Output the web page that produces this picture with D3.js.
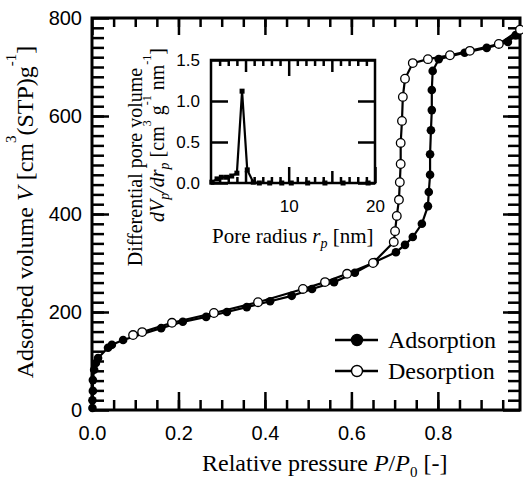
<!DOCTYPE html>
<html>
<head>
<meta charset="utf-8">
<script src="https://cdn.jsdelivr.net/npm/d3@7"></script>
<style>
    body { margin: 0; background: #fff; }
    svg { display: block; }
</style>
</head>
<body>
<div id="chart"></div>
<script>
// Adsorption branch (filled circles)
const adsP = [0.001, 0.001, 0.002, 0.002, 0.005, 0.009, 0.014, 0.037, 0.046, 0.072,
    0.160, 0.210, 0.264, 0.312, 0.358, 0.412, 0.462, 0.509, 0.560, 0.608,
    0.654, 0.703, 0.724, 0.742, 0.763, 0.777, 0.779, 0.782, 0.782, 0.784,
    0.786, 0.786, 0.788, 0.802, 0.862, 0.913, 0.962, 0.980];
const adsV = [4, 20, 39, 61, 82, 96, 106, 127, 133, 143,
    167, 180, 190, 200, 210, 222, 233, 247, 261, 280,
    302, 322, 337, 353, 380, 416, 445, 480, 522, 571,
    612, 653, 692, 716, 729, 739, 751, 765];

// Desorption branch (open circles)
const desP = [0.990, 0.941, 0.874, 0.828, 0.777, 0.742, 0.724, 0.719, 0.717, 0.714,
    0.714, 0.712, 0.710, 0.705, 0.701, 0.698, 0.650, 0.590, 0.539, 0.488,
    0.384, 0.282, 0.185, 0.116, 0.095];
const desV = [776, 747, 733, 724, 716, 708, 676, 639, 590, 545,
    502, 465, 429, 396, 365, 343, 300, 278, 261, 247,
    220, 198, 178, 159, 153];

// Inset: pore size distribution
const poreR = [1.1, 1.7, 2.2, 2.8, 3.4, 4.0, 4.6, 5.2, 5.9, 6.6, 7.8, 9.2, 10.3, 12.2, 14.2, 16.3, 19.2];
const poreDV = [0.01, 0.05, 0.07, 0.07, 0.085, 0.12, 1.12, 0.16, 0.01, 0, 0, 0, 0, 0, 0, 0, 0];

// tick labels
const xTicks = [0, 0.2, 0.4, 0.6, 0.8];
const yTicks = [0, 200, 400, 600, 800];
const insetXTicks = [10, 20];
const insetYTicks = [0, 0.5, 1.0, 1.5];

const legendItems = ['Adsorption', 'Desorption'];

const width = 523, height = 480;
const sans = '"Liberation Sans", Arial, sans-serif';
const serif = '"Liberation Serif", "Times New Roman", serif';

const svg = d3.select('#chart').append('svg')
    .attr('width', width)
    .attr('height', height);

// main scales
const x = d3.scaleLinear().domain([0, 0.99]).range([92, 520]);
const y = d3.scaleLinear().domain([0, 800]).range([410, 18]);

function styleAxis(g, fontSize) {
    g.select('.domain').remove();
    g.selectAll('.tick line').attr('stroke-width', 2.5);
    g.attr('font-family', sans).attr('font-size', fontSize);
    g.selectAll('text').attr('fill', '#000');
}

// minor ticks
const xMinor = d3.range(1, 20).map(i => i * 0.05);
const yMinor = d3.range(1, 40).map(i => i * 20);

svg.append('g').attr('transform', 'translate(0,410)')
    .call(d3.axisBottom(x).tickValues(xMinor).tickSize(-10).tickFormat(''))
    .call(g => styleAxis(g, 20));
svg.append('g').attr('transform', 'translate(0,18)')
    .call(d3.axisTop(x).tickValues(xMinor).tickSize(-9).tickFormat(''))
    .call(g => styleAxis(g, 20));
svg.append('g').attr('transform', 'translate(92,0)')
    .call(d3.axisLeft(y).tickValues(yMinor).tickSize(-12).tickFormat(''))
    .call(g => styleAxis(g, 20));
svg.append('g').attr('transform', 'translate(520,0)')
    .call(d3.axisRight(y).tickValues(yMinor).tickSize(-12).tickFormat(''))
    .call(g => styleAxis(g, 20));

// major ticks
svg.append('g').attr('transform', 'translate(0,410)')
    .call(d3.axisBottom(x).tickValues(xTicks).tickSize(-18).tickPadding(16).tickFormat(d3.format('.1f')))
    .call(g => styleAxis(g, 20));
svg.append('g').attr('transform', 'translate(0,18)')
    .call(d3.axisTop(x).tickValues(xTicks).tickSize(-17).tickFormat(''))
    .call(g => styleAxis(g, 20));
svg.append('g').attr('transform', 'translate(92,0)')
    .call(d3.axisLeft(y).tickValues(yTicks).tickSize(-17).tickPadding(10).tickFormat(d3.format('d')))
    .call(g => styleAxis(g, 20));
svg.append('g').attr('transform', 'translate(520,0)')
    .call(d3.axisRight(y).tickValues(yTicks).tickSize(-17).tickFormat(''))
    .call(g => styleAxis(g, 20));

// frame
svg.append('rect')
    .attr('x', 92).attr('y', 18)
    .attr('width', 520 - 92).attr('height', 410 - 18)
    .attr('fill', 'none').attr('stroke', '#000').attr('stroke-width', 3);

// axis titles
const xTitle = svg.append('text')
    .attr('x', 202).attr('y', 471)
    .attr('font-family', serif).attr('font-size', 24);
xTitle.append('tspan').text('Relative pressure ');
xTitle.append('tspan').attr('font-style', 'italic').text('P');
xTitle.append('tspan').text('/');
xTitle.append('tspan').attr('font-style', 'italic').text('P');
xTitle.append('tspan').attr('font-size', 15).attr('dy', 6).text('0');
xTitle.append('tspan').attr('dy', -6).text(' [-]');

const yTitle = svg.append('text')
    .attr('transform', 'translate(33,212) rotate(-90)')
    .attr('text-anchor', 'middle')
    .attr('font-family', serif).attr('font-size', 24);
yTitle.append('tspan').text('Adsorbed volume ');
yTitle.append('tspan').attr('font-style', 'italic').text('V');
yTitle.append('tspan').text(' [cm');
yTitle.append('tspan').attr('font-size', 15).attr('dy', -17).text('3');
yTitle.append('tspan').attr('dy', 17).text('(STP)g');
yTitle.append('tspan').attr('font-size', 15).attr('dy', -17).text('-1');
yTitle.append('tspan').attr('dy', 17).text(']');

// data lines + markers
const line = d3.line().x(d => x(d[0])).y(d => y(d[1]));
const ads = adsP.map((p, i) => [p, adsV[i]]);
const des = desP.map((p, i) => [p, desV[i]]);

svg.append('path').datum(ads)
    .attr('d', line).attr('fill', 'none').attr('stroke', '#000').attr('stroke-width', 2.2);
svg.append('path').datum(des)
    .attr('d', line).attr('fill', 'none').attr('stroke', '#000').attr('stroke-width', 2.2);

svg.append('g').selectAll('circle')
    .data(ads)
    .join('circle')
    .attr('cx', d => x(d[0])).attr('cy', d => y(d[1]))
    .attr('r', 4.3).attr('fill', '#000');
svg.append('g').selectAll('circle')
    .data(des)
    .join('circle')
    .attr('cx', d => x(d[0])).attr('cy', d => y(d[1]))
    .attr('r', 4.3).attr('fill', '#fff').attr('stroke', '#000').attr('stroke-width', 1.3);

// legend
const legend = svg.append('g');
legendItems.forEach((name, i) => {
    const ly = 340 + i * 31;
    legend.append('line')
        .attr('x1', 335).attr('x2', 378).attr('y1', ly).attr('y2', ly)
        .attr('stroke', '#000').attr('stroke-width', 2.5);
    legend.append('circle')
        .attr('cx', 357).attr('cy', ly).attr('r', 5.5)
        .attr('fill', i === 0 ? '#000' : '#fff')
        .attr('stroke', '#000').attr('stroke-width', 1.4);
    legend.append('text')
        .attr('x', 388).attr('y', ly + 8)
        .attr('font-family', serif).attr('font-size', 24)
        .text(name);
});

// ---------------- inset ----------------
const xi = d3.scaleLinear().domain([1, 20]).range([211, 375]);
const yi = d3.scaleLinear().domain([0, 1.5]).range([183, 60]);

const inset = svg.append('g');

const riMinor = d3.range(2, 20).filter(v => v % 5 !== 0);
[[183, d3.axisBottom], [60, d3.axisTop]].forEach(([ty, fn]) => {
    inset.append('g').attr('transform', `translate(0,${ty})`)
        .call(fn(xi).tickValues(riMinor).tickSize(-6).tickFormat(''))
        .call(g => styleAxis(g, 17));
    inset.append('g').attr('transform', `translate(0,${ty})`)
        .call(fn(xi).tickValues([5, 15]).tickSize(-12).tickFormat(''))
        .call(g => styleAxis(g, 17));
});
inset.append('g').attr('transform', 'translate(0,183)')
    .call(d3.axisBottom(xi).tickValues(insetXTicks).tickSize(-16).tickPadding(17).tickFormat(d3.format('d')))
    .call(g => styleAxis(g, 17));
inset.append('g').attr('transform', 'translate(0,60)')
    .call(d3.axisTop(xi).tickValues([10]).tickSize(-16).tickFormat(''))
    .call(g => styleAxis(g, 17));
inset.append('g').attr('transform', 'translate(211,0)')
    .call(d3.axisLeft(yi).tickValues(insetYTicks).tickSize(-17).tickPadding(11).tickFormat(d3.format('.1f')))
    .call(g => styleAxis(g, 17));
inset.append('g').attr('transform', 'translate(375,0)')
    .call(d3.axisRight(yi).tickValues(insetYTicks).tickSize(-17).tickFormat(''))
    .call(g => styleAxis(g, 17));

inset.append('rect')
    .attr('x', 211).attr('y', 60)
    .attr('width', 375 - 211).attr('height', 183 - 60)
    .attr('fill', 'none').attr('stroke', '#000').attr('stroke-width', 2.5);

const pore = poreR.map((r, i) => [r, poreDV[i]]);
inset.append('path').datum(pore)
    .attr('d', d3.line().x(d => xi(d[0])).y(d => yi(d[1])))
    .attr('fill', 'none').attr('stroke', '#000').attr('stroke-width', 2.2);
inset.append('g').selectAll('rect')
    .data(pore)
    .join('rect')
    .attr('x', d => xi(d[0]) - 2.5).attr('y', d => yi(d[1]) - 2.5)
    .attr('width', 5).attr('height', 5).attr('fill', '#000');

// inset titles
const ixTitle = inset.append('text')
    .attr('x', 212).attr('y', 243)
    .attr('font-family', serif).attr('font-size', 21);
ixTitle.append('tspan').text('Pore radius ');
ixTitle.append('tspan').attr('font-style', 'italic').text('r');
ixTitle.append('tspan').attr('font-style', 'italic').attr('font-size', 14).attr('dy', 5).text('p');
ixTitle.append('tspan').attr('dy', -5).text(' [nm]');

inset.append('text')
    .attr('transform', 'translate(142,167) rotate(-90)')
    .attr('text-anchor', 'middle')
    .attr('font-family', serif).attr('font-size', 20)
    .text('Differential pore volume');

const iyTitle = inset.append('text')
    .attr('transform', 'translate(164,135) rotate(-90)')
    .attr('text-anchor', 'middle')
    .attr('font-family', serif).attr('font-size', 20);
iyTitle.append('tspan').attr('font-style', 'italic').text('dV');
iyTitle.append('tspan').attr('font-style', 'italic').attr('font-size', 14).attr('dy', 5).text('p');
iyTitle.append('tspan').attr('font-style', 'italic').attr('dy', -5).text('/dr');
iyTitle.append('tspan').attr('font-style', 'italic').attr('font-size', 14).attr('dy', 5).text('p');
iyTitle.append('tspan').attr('dy', -5).text(' [cm');
iyTitle.append('tspan').attr('font-size', 12).attr('dy', -13).text('3');
iyTitle.append('tspan').attr('dy', 13).text(' g');
iyTitle.append('tspan').attr('font-size', 12).attr('dy', -13).text('-1');
iyTitle.append('tspan').attr('dy', 13).text(' nm');
iyTitle.append('tspan').attr('font-size', 12).attr('dy', -13).text('-1');
iyTitle.append('tspan').attr('dy', 13).text(']');
</script>
</body>
</html>
